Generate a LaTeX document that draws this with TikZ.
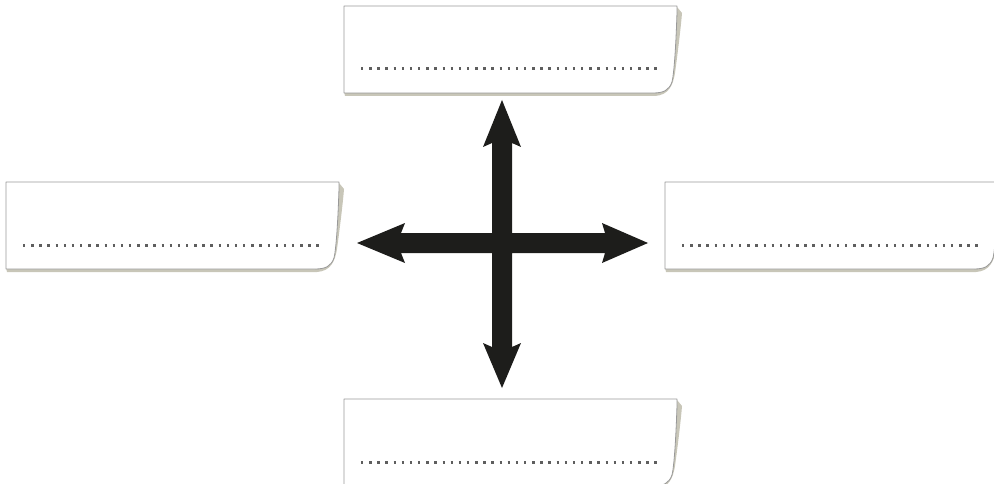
\documentclass[tikz,border=0pt]{standalone}
\usetikzlibrary{calc}
\definecolor{arrowblack}{HTML}{1D1D1B}
\definecolor{paperedge}{HTML}{999999}
\definecolor{papershadow}{HTML}{C8C6B8}
\definecolor{dotgray}{HTML}{5E5E5E}
\tikzset{
  paperbox/.style={draw=none, minimum width=333pt, minimum height=87pt, inner sep=0pt, outer sep=0pt},
  paperfill/.style={fill=white, draw=paperedge, line width=0.8pt, line join=round},
  shadowfill/.style={fill=papershadow},
  dotline/.style={draw=dotgray, line width=3pt, dash pattern=on 2.4pt off 5.75pt},
  arrowfill/.style={fill=arrowblack}
}
\newcommand{\paperdraw}[1]{%
  \path[shadowfill] let \p1=(#1.north west), \p2=(#1.south east) in
    (\x1,\y2+2pt) -- (\x1+1pt,\y2-3pt) -- (\x2-22pt,\y2-3pt)
    .. controls (\x2-8pt,\y2-2pt) and (\x2-4pt,\y2+8pt) .. (\x2-2pt,\y2+20pt)
    .. controls (\x2+1pt,\y1-45pt) and (\x2+4pt,\y1-20pt) .. (\x2+5pt,\y1-7pt)
    -- (\x2,\y1-1pt) -- cycle;
  \path[paperfill] let \p1=(#1.north west), \p2=(#1.south east) in
    (\x1,\y1) -- (\x2,\y1) -- (\x2,\y1-6pt)
    .. controls (\x2-1pt,\y1-40pt) and (\x2-3pt,\y1-68pt) .. (\x2-5pt,\y1-76pt)
    .. controls (\x2-8pt,\y2+3pt) and (\x2-13pt,\y2) .. (\x2-24pt,\y2)
    -- (\x1,\y2) -- cycle;
  \path[dotline] ([xshift=17pt,yshift=-63pt]#1.north west) -- ++(296pt,0);
}
\begin{document}
\begin{tikzpicture}[x=1pt,y=-1pt]
\useasboundingbox (0,0) rectangle (994,484);
\node[paperbox] (topbox) at (510.5,49.5) {};
\node[paperbox] (leftbox) at (172.5,225.5) {};
\node[paperbox] (rightbox) at (831.5,225.5) {};
\node[paperbox] (bottombox) at (510.5,442.5) {};
\paperdraw{topbox}
\paperdraw{leftbox}
\paperdraw{rightbox}
\paperdraw{bottombox}
\coordinate (c) at (502,243);
\begin{scope}[shift={(c)}]
\fill[arrowfill] (0,-143) -- (19,-96) -- (10,-100) -- (10,-10) -- (103,-10) -- (100,-20)
  -- (146,0) -- (100,20) -- (103,10) -- (10,10) -- (10,104) -- (19,100)
  -- (0,145) -- (-19,100) -- (-10,104) -- (-10,10) -- (-101,10) -- (-97,20)
  -- (-145,0) -- (-97,-20) -- (-101,-10) -- (-10,-10) -- (-10,-100) -- (-19,-96) -- cycle;
\end{scope}
\end{tikzpicture}
\end{document}
